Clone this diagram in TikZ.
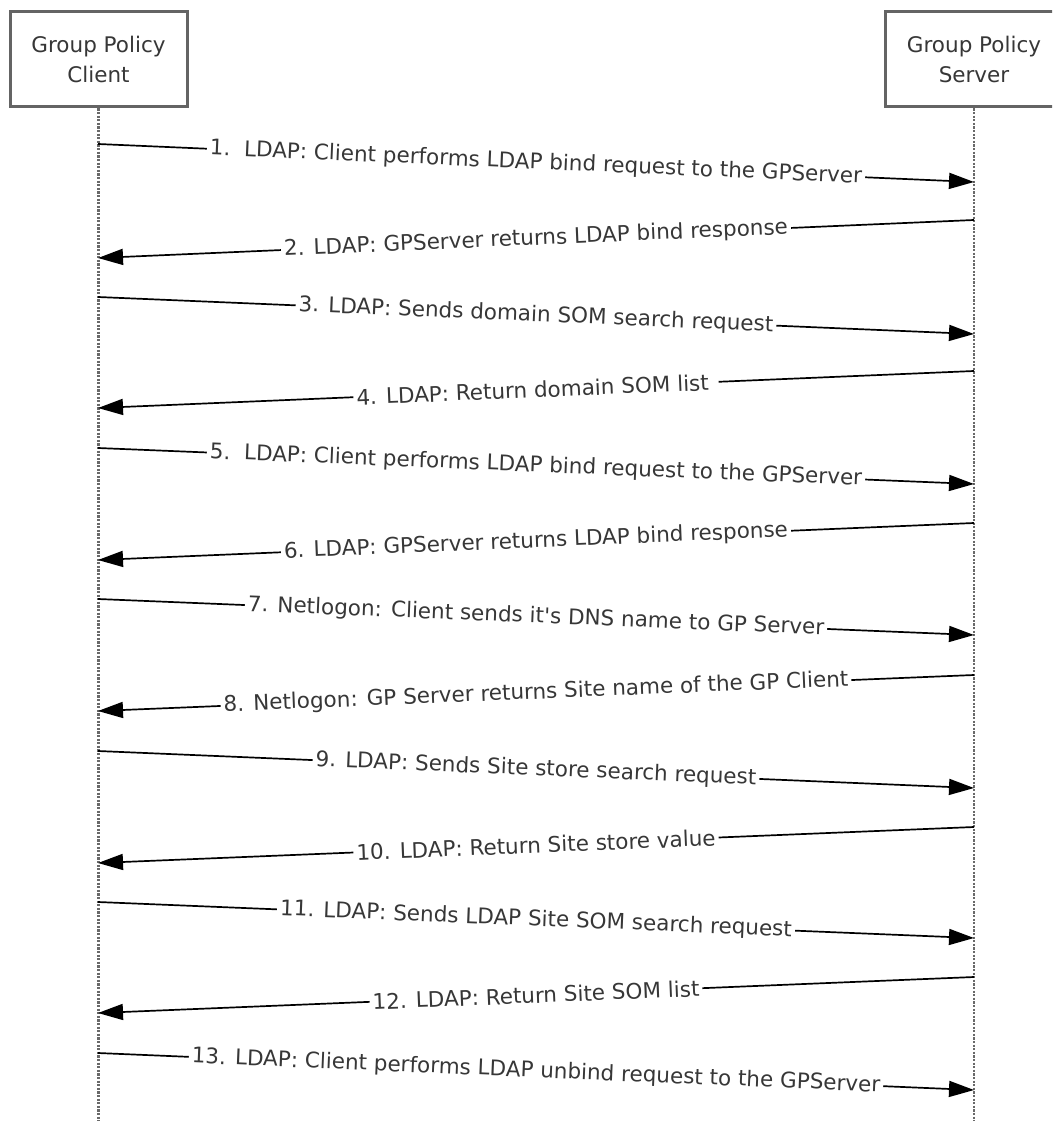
\documentclass[tikz,border=0pt]{standalone}
\usepackage{fontspec}
\setmainfont{DejaVu Sans}
\usepackage{tikz}
\usetikzlibrary{arrows.meta,positioning}
\definecolor{boxgray}{RGB}{100,100,100}
\definecolor{txtgray}{RGB}{55,55,55}
\definecolor{lifegray}{RGB}{105,105,105}

\begin{document}
\begin{tikzpicture}[x=1pt,y=-1pt,
  actor/.style={draw=boxgray,line width=3pt,fill=white,
                minimum width=177pt,minimum height=95pt,align=center,
                text=txtgray,font=\fontsize{21.5}{30}\selectfont},
  life/.style={lifegray,line width=2.6pt,dash pattern=on 2.2pt off 1.4pt},
  msg/.style={-{Triangle[length=25pt,width=16pt]},line width=1.7pt},
  lbl/.style={fill=white,sloped,text=txtgray,inner xsep=3pt,inner ysep=1pt,
              font=\fontsize{21.5}{26}\selectfont}]
  \useasboundingbox (0,0) rectangle (1052,1121);
  \clip (0,0) rectangle (1052,1121);
  % lifelines
  \node[actor](client) at (98.5,59.5) {Group Policy\\Client};
  \node[actor](server) at (974,59.5) {Group Policy\\Server};
  \coordinate (cbot) at (98,1121);
  \coordinate (sbot) at (974,1121);
  \draw[life](client.south)--(client.south|-cbot);
  \draw[life](server.south)--(server.south|-sbot);
  % message end points
  \coordinate (c1) at (98,144);  \coordinate (s1) at (974,182);
  \coordinate (s2) at (974,220); \coordinate (c2) at (98,258);
  \coordinate (c3) at (98,297);  \coordinate (s3) at (974,334);
  \coordinate (s4) at (974,371); \coordinate (c4) at (98,408);
  \coordinate (c5) at (98,448);  \coordinate (s5) at (974,484);
  \coordinate (s6) at (974,523); \coordinate (c6) at (98,560);
  \coordinate (c7) at (98,599);  \coordinate (s7) at (974,635);
  \coordinate (s8) at (974,675); \coordinate (c8) at (98,711);
  \coordinate (c9) at (98,751);  \coordinate (s9) at (974,788);
  \coordinate (s10) at (974,827); \coordinate (c10) at (98,863);
  \coordinate (c11) at (98,902); \coordinate (s11) at (974,938);
  \coordinate (s12) at (974,977); \coordinate (c12) at (98,1013);
  \coordinate (c13) at (98,1053); \coordinate (s13) at (974,1090);
  % messages
  \draw[msg](c1)--node[lbl](m1){1.\ \ LDAP: Client performs LDAP bind request to the GPServer}(s1);
  \draw[msg](s2)--node[lbl](m2){2. LDAP: GPServer returns LDAP bind response}(c2);
  \draw[msg](c3)--node[lbl](m3){3. LDAP: Sends domain SOM search request}(s3);
  \draw[msg](s4)--node[lbl](m4){4. LDAP: Return domain SOM list\ \ }(c4);
  \draw[msg](c5)--node[lbl](m5){5.\ \ LDAP: Client performs LDAP bind request to the GPServer}(s5);
  \draw[msg](s6)--node[lbl](m6){6. LDAP: GPServer returns LDAP bind response}(c6);
  \draw[msg](c7)--node[lbl](m7){7. Netlogon: Client sends it\textquotesingle s DNS name to GP Server}(s7);
  \draw[msg](s8)--node[lbl](m8){8. Netlogon: GP Server returns Site name of the GP Client}(c8);
  \draw[msg](c9)--node[lbl](m9){9. LDAP: Sends Site store search request}(s9);
  \draw[msg](s10)--node[lbl](m10){10. LDAP: Return Site store value}(c10);
  \draw[msg](c11)--node[lbl](m11){11. LDAP: Sends LDAP Site SOM search request}(s11);
  \draw[msg](s12)--node[lbl](m12){12. LDAP: Return Site SOM list}(c12);
  \draw[msg](c13)--node[lbl](m13){13. LDAP: Client performs LDAP unbind request to the GPServer}(s13);
\end{tikzpicture}
\end{document}
